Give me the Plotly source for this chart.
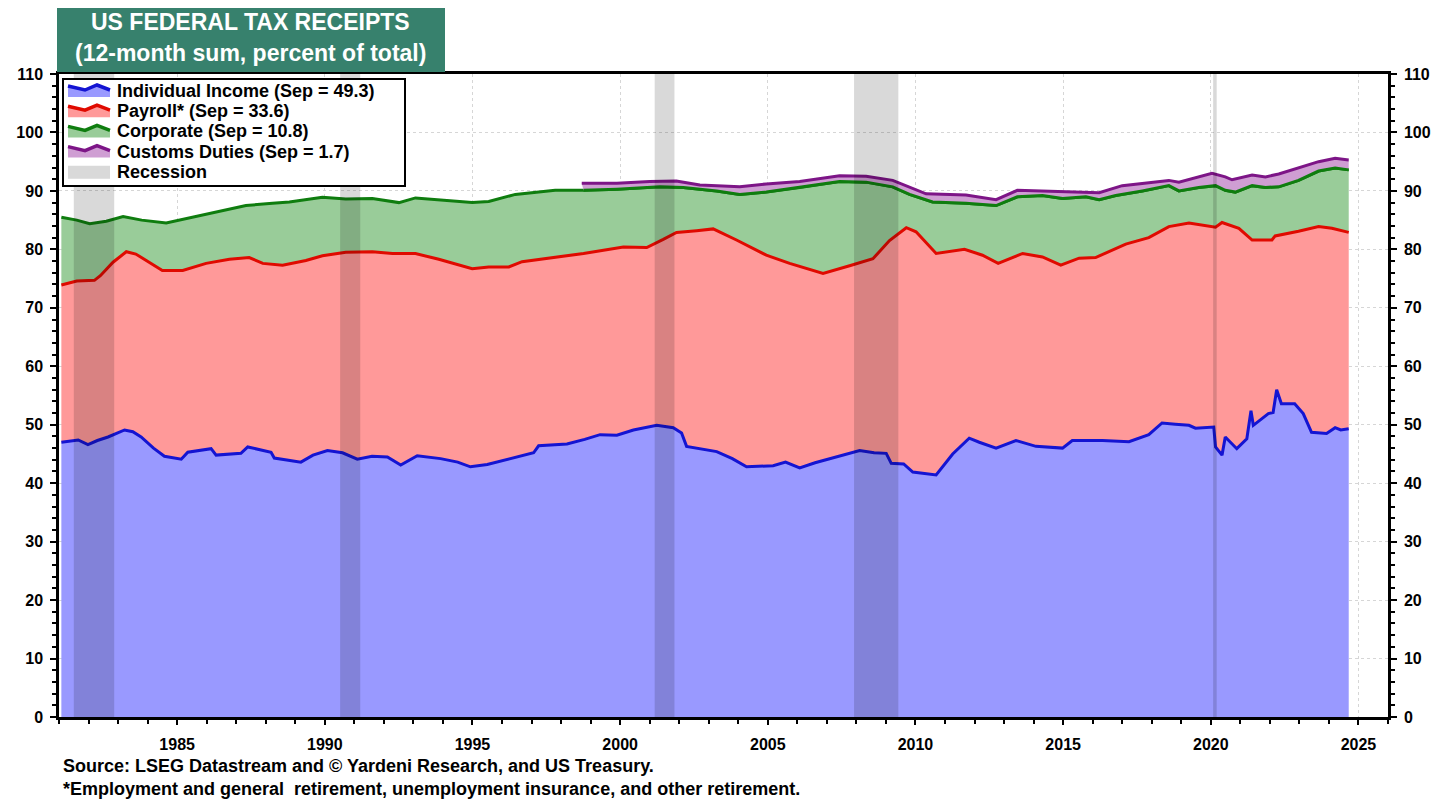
import plotly.graph_objects as go

# ---------------- data (cumulative stacked levels, % of total) ----------------
income_x = [1981.08, 1981.65, 1981.98, 1982.3, 1982.66, 1983.22, 1983.5, 1983.78, 1984.2, 1984.57,
            1985.14, 1985.36, 1986.15, 1986.32, 1987.16, 1987.39, 1988.18, 1988.29, 1989.19, 1989.6,
            1990.09, 1990.6, 1991.1, 1991.6, 1992.12, 1992.57, 1993.13, 1993.92, 1994.5, 1994.93,
            1995.5, 1996.17, 1997.07, 1997.24, 1998.2, 1998.8, 1999.32, 1999.89, 2000.45, 2001.24,
            2001.8, 2002.08, 2002.25, 2003.27, 2003.8, 2004.28, 2005.18, 2005.6, 2006.08, 2006.6,
            2007.21, 2008.11, 2008.6, 2009.01, 2009.18, 2009.6, 2009.91, 2010.3, 2010.7, 2011.26,
            2011.82, 2012.16, 2012.73, 2013.4, 2014.08, 2014.98, 2015.31, 2016.33, 2017.23, 2017.9,
            2018.35, 2018.8, 2019.26, 2019.48, 2020.1, 2020.16, 2020.38, 2020.49, 2020.88, 2021.22,
            2021.36, 2021.44, 2021.95, 2022.11, 2022.23, 2022.39, 2022.84, 2023.13, 2023.41, 2023.92,
            2024.21, 2024.4, 2024.67]
income_y = [47.0, 47.4, 46.6, 47.3, 47.9, 49.1, 48.8, 47.9, 46.0, 44.6,
            44.1, 45.3, 45.9, 44.8, 45.1, 46.2, 45.3, 44.3, 43.6, 44.8,
            45.6, 45.2, 44.1, 44.6, 44.5, 43.1, 44.7, 44.2, 43.6, 42.8,
            43.2, 44.0, 45.2, 46.4, 46.7, 47.5, 48.3, 48.2, 49.1, 49.9,
            49.5, 48.6, 46.3, 45.4, 44.2, 42.8, 43.0, 43.6, 42.6, 43.5,
            44.4, 45.6, 45.2, 45.1, 43.4, 43.3, 41.9, 41.6, 41.4, 45.0,
            47.7, 47.0, 46.0, 47.3, 46.3, 46.0, 47.3, 47.3, 47.1, 48.3,
            50.3, 50.1, 49.9, 49.4, 49.6, 46.2, 44.8, 47.9, 45.9, 47.6,
            52.4, 49.9, 51.9, 52.1, 56.0, 53.6, 53.6, 51.9, 48.7, 48.5,
            49.5, 49.1, 49.3]

payroll_x = [1981.08, 1981.6, 1982.2, 1982.4, 1982.83, 1983.28, 1983.6, 1984.06, 1984.5, 1985.19,
             1985.98, 1986.77, 1987.44, 1987.9, 1988.57, 1989.36, 1989.92, 1990.71, 1991.61, 1992.29,
             1993.07, 1993.86, 1994.99, 1995.55, 1996.23, 1996.68, 1997.8, 1998.76, 2000.11, 2000.9,
             2001.46, 2001.91, 2002.59, 2003.15, 2003.94, 2004.95, 2005.74, 2006.87, 2007.77, 2008.56,
             2009.12, 2009.69, 2010.02, 2010.7, 2011.66, 2012.27, 2012.8, 2013.63, 2014.3, 2014.92,
             2015.54, 2016.1, 2017.12, 2017.9, 2018.58, 2019.26, 2020.16, 2020.38, 2020.95, 2021.4,
             2022.07, 2022.18, 2022.97, 2023.65, 2024.1, 2024.67]
payroll_y = [73.9, 74.6, 74.7, 75.5, 77.8, 79.6, 79.2, 77.8, 76.4, 76.4,
             77.6, 78.3, 78.6, 77.6, 77.3, 78.1, 78.9, 79.5, 79.6, 79.3,
             79.3, 78.3, 76.7, 77.0, 77.0, 77.9, 78.6, 79.3, 80.4, 80.3,
             81.7, 82.9, 83.2, 83.5, 81.6, 79.0, 77.6, 75.9, 77.2, 78.4,
             81.5, 83.7, 83.0, 79.3, 80.0, 79.0, 77.6, 79.3, 78.7, 77.3,
             78.5, 78.6, 80.9, 82.0, 83.9, 84.5, 83.8, 84.6, 83.6, 81.6,
             81.6, 82.3, 83.1, 83.9, 83.6, 82.9]

corporate_x = [1981.08, 1981.6, 1982.04, 1982.6, 1983.17, 1983.8, 1984.63, 1985.42, 1986.54, 1987.33,
               1988.23, 1988.8, 1989.92, 1990.71, 1991.61, 1992.51, 1993.07, 1993.86, 1994.99, 1995.55,
               1996.45, 1997.8, 1998.76, 1999.89, 2001.35, 2002.14, 2003.27, 2004.05, 2004.95, 2006.08,
               2007.43, 2008.33, 2009.23, 2009.8, 2010.58, 2011.71, 2012.73, 2013.45, 2014.3, 2014.98,
               2015.77, 2016.22, 2016.78, 2017.68, 2018.58, 2018.92, 2019.59, 2020.16, 2020.49, 2020.83,
               2021.4, 2021.85, 2022.3, 2022.97, 2023.65, 2024.21, 2024.67]
corporate_y = [85.5, 85.0, 84.4, 84.8, 85.6, 85.0, 84.5, 85.4, 86.6, 87.5,
               87.9, 88.1, 88.9, 88.6, 88.7, 88.0, 88.8, 88.5, 88.0, 88.2,
               89.4, 90.1, 90.1, 90.3, 90.7, 90.6, 90.0, 89.4, 89.8, 90.6,
               91.6, 91.5, 90.7, 89.4, 88.1, 87.9, 87.5, 89.0, 89.2, 88.7,
               89.0, 88.5, 89.2, 90.0, 90.9, 90.0, 90.6, 90.9, 90.1, 89.8,
               90.9, 90.6, 90.7, 91.8, 93.4, 93.9, 93.6]

customs_x = [1998.7, 1999.89, 2001.0, 2001.9, 2002.7, 2004.05, 2004.95, 2006.08, 2007.43, 2008.33,
             2009.23, 2009.8, 2010.36, 2011.71, 2012.73, 2013.45, 2014.3, 2014.98, 2016.22, 2017.0,
             2017.68, 2018.58, 2018.92, 2019.59, 2020.04, 2020.49, 2020.72, 2021.4, 2021.85, 2022.3,
             2022.97, 2023.65, 2024.21, 2024.67]
customs_y = [91.3, 91.3, 91.6, 91.7, 91.0, 90.7, 91.2, 91.6, 92.6, 92.5,
             91.8, 90.7, 89.5, 89.3, 88.5, 90.1, 90.0, 89.8, 89.7, 90.9,
             91.3, 91.8, 91.5, 92.4, 93.0, 92.4, 91.9, 92.7, 92.4, 92.9,
             94.0, 95.0, 95.6, 95.3]

recession_start = [1981.5, 1990.52, 2001.17, 2007.92, 2020.08]
recession_end = [1982.87, 1991.2, 2001.84, 2009.42, 2020.2]

legend_names = ["Individual Income (Sep = 49.3)", "Payroll* (Sep = 33.6)",
                "Corporate (Sep = 10.8)", "Customs Duties (Sep = 1.7)", "Recession"]
year_ticks = [1985, 1990, 1995, 2000, 2005, 2010, 2015, 2020, 2025]
y_ticks = [0, 10, 20, 30, 40, 50, 60, 70, 80, 90, 100, 110]

# ---------------- styling ----------------
FONT = "Liberation Sans, Arial, sans-serif"
# the page body adds an 8px offset, so the figure is 8px smaller than the window
OFF = 8
SCREEN_L, SCREEN_R, SCREEN_T, SCREEN_B = 59, 1388, 74, 717   # plot area on screen
W, H = 1449 - OFF, 803 - OFF
ML = SCREEN_L - OFF
MT = SCREEN_T - OFF
MR = W - (SCREEN_R - OFF)
MB = H - (SCREEN_B - OFF)
PW, PH = SCREEN_R - SCREEN_L, SCREEN_B - SCREEN_T


def px_x(p):
    """screen pixel x -> paper coordinate"""
    return (p - SCREEN_L) / PW


def px_y(p):
    """screen pixel y -> paper coordinate"""
    return (SCREEN_B - p) / PH


blue_line, blue_fill = "#1414d2", "#9999ff"
red_line, red_fill = "#e00a00", "#ff9999"
green_line, green_fill = "#0f7d0f", "#99cc99"
purple_line, purple_fill = "#7d1587", "#cf9ed3"
LW = 3

fig = go.Figure()
fig.add_trace(go.Scatter(x=income_x, y=income_y, mode="lines", name=legend_names[0],
                         line=dict(color=blue_line, width=LW), fill="tozeroy",
                         fillcolor=blue_fill, showlegend=False))
fig.add_trace(go.Scatter(x=payroll_x, y=payroll_y, mode="lines", name=legend_names[1],
                         line=dict(color=red_line, width=LW), fill="tonexty",
                         fillcolor=red_fill, showlegend=False))
fig.add_trace(go.Scatter(x=corporate_x, y=corporate_y, mode="lines", name=legend_names[2],
                         line=dict(color=green_line, width=LW), fill="tonexty",
                         fillcolor=green_fill, showlegend=False))
# helper: corporate level over the customs period (base of the customs band)
hx = [x for x in corporate_x if x >= customs_x[0]]
hy = [y for x, y in zip(corporate_x, corporate_y) if x >= customs_x[0]]
fig.add_trace(go.Scatter(x=hx, y=hy, mode="lines", showlegend=False, hoverinfo="skip",
                         line=dict(color=green_line, width=LW)))
fig.add_trace(go.Scatter(x=customs_x, y=customs_y, mode="lines", name=legend_names[3],
                         line=dict(color=purple_line, width=LW), fill="tonexty",
                         fillcolor=purple_fill, showlegend=False))
# dummy for right axis
fig.add_trace(go.Scatter(x=[None], y=[None], yaxis="y2", showlegend=False, hoverinfo="skip"))

shapes = []
for s, e in zip(recession_start, recession_end):
    shapes.append(dict(type="rect", xref="x", yref="paper", x0=s, x1=e, y0=0, y1=1,
                       fillcolor="rgba(0,0,0,0.15)", line=dict(width=0), layer="above"))
# title box
shapes.append(dict(type="rect", xref="paper", yref="paper", x0=px_x(57), x1=px_x(445),
                   y0=px_y(72), y1=px_y(5), fillcolor="#37816d", line=dict(width=0),
                   layer="above"))

# ---- legend box (drawn by hand to match the compact row spacing) ----
shapes.append(dict(type="rect", xref="paper", yref="paper", x0=px_x(63), x1=px_x(405),
                   y0=px_y(186), y1=px_y(79), fillcolor="white",
                   line=dict(color="black", width=2), layer="above"))
leg_colors = [(blue_line, blue_fill), (red_line, red_fill), (green_line, green_fill),
              (purple_line, purple_fill)]
SW_X0, SW_X1 = 68, 110
annotations = []
for i, name in enumerate(legend_names):
    yc = 91 + 20.2 * i
    if i < 4:
        lc, fc = leg_colors[i]
        pts = [(SW_X0, yc - 5), (SW_X0 + 17, yc - 1), (SW_X0 + 29, yc - 6), (SW_X1, yc - 1)]
        line_path = "M " + " L ".join(f"{px_x(a):.5f},{px_y(b):.5f}" for a, b in pts)
        fill_path = (line_path + f" L {px_x(SW_X1):.5f},{px_y(yc + 6):.5f}"
                     f" L {px_x(SW_X0):.5f},{px_y(yc + 6):.5f} Z")
        shapes.append(dict(type="path", xref="paper", yref="paper", path=fill_path,
                           fillcolor=fc, line=dict(width=0), layer="above"))
        shapes.append(dict(type="path", xref="paper", yref="paper", path=line_path,
                           line=dict(color=lc, width=3.5), layer="above"))
    else:
        shapes.append(dict(type="rect", xref="paper", yref="paper", x0=px_x(SW_X0),
                           x1=px_x(SW_X1), y0=px_y(yc + 7), y1=px_y(yc - 6),
                           fillcolor="#d9d9d9", line=dict(width=0), layer="above"))
    annotations.append(dict(xref="paper", yref="paper", x=px_x(115), y=px_y(yc),
                            xanchor="left", yanchor="middle", text=name, showarrow=False,
                            font=dict(family=FONT, size=18, color="black", weight="bold")))

annotations += [
    dict(xref="paper", yref="paper", x=px_x(251), y=px_y(22), text="US FEDERAL TAX RECEIPTS",
         showarrow=False, xanchor="center", yanchor="middle",
         font=dict(family=FONT, size=23, color="white", weight="bold")),
    dict(xref="paper", yref="paper", x=px_x(251), y=px_y(53),
         text="(12-month sum, percent of total)",
         showarrow=False, xanchor="center", yanchor="middle",
         font=dict(family=FONT, size=23, color="white", weight="bold")),
    dict(xref="paper", yref="paper", x=px_x(61), y=px_y(766), xanchor="left", yanchor="middle",
         text="Source: LSEG Datastream and © Yardeni Research, and US Treasury.",
         showarrow=False, font=dict(family=FONT, size=18, color="black", weight="bold")),
    dict(xref="paper", yref="paper", x=px_x(61), y=px_y(789), xanchor="left", yanchor="middle",
         text="*Employment and general\u00a0 retirement, unemployment insurance, and other retirement.",
         showarrow=False, font=dict(family=FONT, size=18, color="black", weight="bold")),
]

tickfont = dict(family=FONT, size=16, color="black", weight="bold")
yax = dict(range=[0, 110], tickvals=y_ticks, showline=True, linecolor="black", linewidth=2.5,
           ticks="outside", ticklen=6, tickwidth=1.5, tickcolor="black", tickfont=tickfont,
           ticklabelstandoff=4, automargin=False,
           showgrid=True, gridcolor="#d6d6d6", griddash="dot", gridwidth=1, zeroline=False,
           minor=dict(dtick=2, ticks="outside", ticklen=4, tickcolor="black", showgrid=False),
           fixedrange=True)

fig.update_layout(
    template="none",
    width=W, height=H,
    margin=dict(l=ML, r=MR, t=MT, b=MB, pad=0, autoexpand=False),
    paper_bgcolor="white", plot_bgcolor="white",
    showlegend=False,
    xaxis=dict(range=[1981.0, 2026.0], tickvals=year_ticks, showline=True, mirror=True,
               linecolor="black", linewidth=2.5, ticks="outside", ticklen=5, tickwidth=1.5,
               tickcolor="black", tickfont=tickfont, ticklabelstandoff=6, automargin=False,
               showgrid=True, gridcolor="#d6d6d6", griddash="dot", gridwidth=1, zeroline=False,
               minor=dict(dtick=1, tick0=1981, ticks="outside", ticklen=4, tickcolor="black",
                          showgrid=False),
               fixedrange=True),
    yaxis=yax,
    yaxis2=dict(yax, overlaying="y", side="right", showgrid=False),
    shapes=shapes,
    annotations=annotations,
    hovermode=False,
)

fig.write_html("out.html")
